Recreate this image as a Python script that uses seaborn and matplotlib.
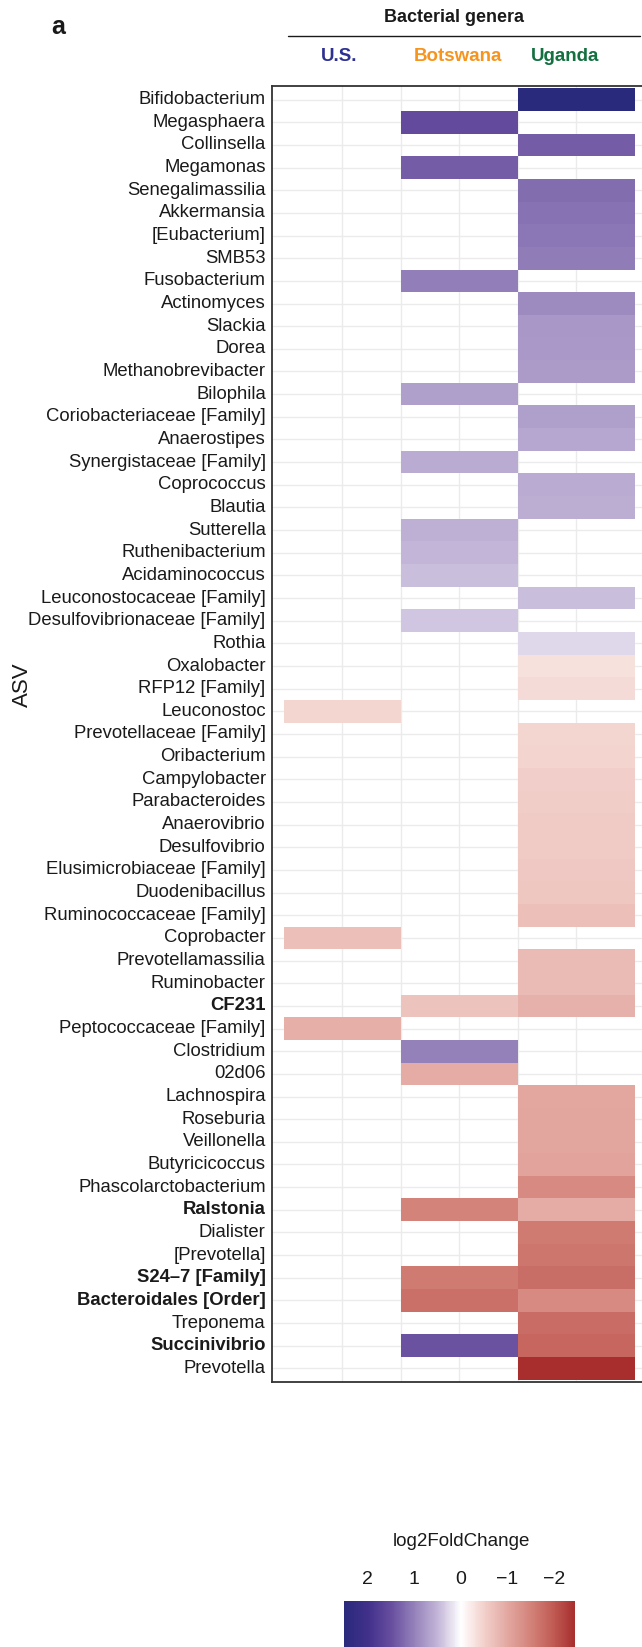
import numpy as np
import pandas as pd
import matplotlib
matplotlib.use('Agg')
import matplotlib.pyplot as plt
import seaborn as sns
from matplotlib.colors import LinearSegmentedColormap
from matplotlib.lines import Line2D

# rows of the heatmap, top to bottom
genera = [
    "Bifidobacterium", "Megasphaera", "Collinsella", "Megamonas", "Senegalimassilia",
    "Akkermansia", "[Eubacterium]", "SMB53", "Fusobacterium", "Actinomyces",
    "Slackia", "Dorea", "Methanobrevibacter", "Bilophila", "Coriobacteriaceae [Family]",
    "Anaerostipes", "Synergistaceae [Family]", "Coprococcus", "Blautia", "Sutterella",
    "Ruthenibacterium", "Acidaminococcus", "Leuconostocaceae [Family]",
    "Desulfovibrionaceae [Family]", "Rothia", "Oxalobacter", "RFP12 [Family]",
    "Leuconostoc", "Prevotellaceae [Family]", "Oribacterium", "Campylobacter",
    "Parabacteroides", "Anaerovibrio", "Desulfovibrio", "Elusimicrobiaceae [Family]",
    "Duodenibacillus", "Ruminococcaceae [Family]", "Coprobacter", "Prevotellamassilia",
    "Ruminobacter", "CF231", "Peptococcaceae [Family]", "Clostridium", "02d06",
    "Lachnospira", "Roseburia", "Veillonella", "Butyricicoccus", "Phascolarctobacterium",
    "Ralstonia", "Dialister", "[Prevotella]", "S24\u20137 [Family]", "Bacteroidales [Order]",
    "Treponema", "Succinivibrio", "Prevotella",
]
bold_genera = ["CF231", "Ralstonia", "S24\u20137 [Family]", "Bacteroidales [Order]", "Succinivibrio"]

countries = ["U.S.", "Botswana", "Uganda"]
country_colors = ["#2E3192", "#F7941D", "#137040"]

N = None
# log2FoldChange per country (None = not significant)
us_lfc = [N] * 27 + [-0.43] + [N] * 9 + [-0.72] + [N] * 3 + [-0.90] + [N] * 15
botswana_lfc = [
    N, 1.55, N, 1.35, N, N, N, N, 1.03, N,
    N, N, N, 0.72, N, N, 0.60, N, N, 0.55,
    0.49, 0.43, N, 0.38, N, N, N, N, N, N,
    N, N, N, N, N, N, N, N, N, N,
    -0.65, N, 1.00, -0.95, N, N, N, N, N, -1.50,
    N, N, -1.60, -1.72, N, 1.45, N,
]
uganda_lfc = [
    2.51, N, 1.35, N, 1.20, 1.15, 1.10, 1.05, N, 0.90,
    0.80, 0.77, 0.75, N, 0.72, 0.63, N, 0.60, 0.57, N,
    N, N, 0.43, N, 0.27, -0.33, -0.38, N, -0.43, -0.46,
    -0.52, -0.54, -0.56, -0.57, -0.59, -0.61, -0.72, N, -0.78, -0.78,
    -0.88, N, N, N, -1.00, -1.03, -1.02, -1.06, -1.40, -0.95,
    -1.60, -1.65, -1.75, -1.40, -1.76, -1.85, -2.45,
]

df = pd.DataFrame({"U.S.": us_lfc, "Botswana": botswana_lfc, "Uganda": uganda_lfc},
                  index=genera).astype(float)

# colour scale: positive = blue, negative = red
cmap = LinearSegmentedColormap.from_list("lfc", [
    (0.0, "#A52A2A"), (0.1, "#C05A53"), (0.2, "#D3837A"), (0.3, "#E3A8A1"),
    (0.4, "#F2D0CB"), (0.5, "#FFFFFF"), (0.6, "#C3B5D8"), (0.7, "#9582BB"),
    (0.8, "#674E9F"), (0.9, "#41308B"), (1.0, "#2A2A7C"),
])

sns.set_theme(style="white")
plt.rcParams['font.family'] = ['Liberation Sans', 'DejaVu Sans']

W, H = 642, 1647
fig = plt.figure(figsize=(W / 100, H / 100), dpi=100)

def fx(x):
    return x / W

def fy(y):
    return 1 - y / H

ax = fig.add_axes([fx(272), fy(1382), 374.4 / W, 1296 / H])
cax = fig.add_axes([fx(344), fy(1665), 231 / W, 64 / H])

sns.heatmap(df, mask=df.isna(), cmap=cmap, vmin=-2.5, vmax=2.5, ax=ax,
            cbar_ax=cax, cbar_kws={"orientation": "horizontal"},
            xticklabels=False, yticklabels=genera)

ax.set_xlim(-0.1, 3.1)
ax.set_ylim(len(genera) + 0.1, -0.1)
ax.set_xticks([0.5, 1.0, 1.5, 2.0, 2.5])
ax.set_xticklabels([])
ax.set_axisbelow(True)
ax.grid(True, color="#EBEBEB", lw=1)
ax.set_ylabel("")
ax.set_xlabel("")
ax.tick_params(axis="both", length=0)
ax.tick_params(axis="y", labelsize=13.3, labelcolor="#1A1A1A", pad=4.5)
for lab in ax.get_yticklabels():
    lab.set_rotation(0)
    if lab.get_text() in bold_genera:
        lab.set_fontweight("bold")
for side in ["left", "top", "bottom", "right"]:
    ax.spines[side].set_visible(True)
    ax.spines[side].set_color("#333333")
    ax.spines[side].set_linewidth(1.3)

# colour bar
cb = ax.collections[0].colorbar
cb.outline.set_visible(False)
cax.set_xlim(2.51, -2.45)
cax.set_xticks([2, 1, 0, -1, -2])
cax.set_xticklabels(["2", "1", "0", "\u22121", "\u22122"])
cax.xaxis.set_ticks_position("top")
cax.tick_params(axis="x", direction="in", length=6.5, width=1, color=(1, 1, 1, 0.8),
                labelsize=14, labelcolor="#1A1A1A", pad=9)
fig.text(fx(461.5), fy(1541), "log2FoldChange", fontsize=13.5, color="#1A1A1A",
         ha="center", va="center")

# header
fig.text(fx(58), fy(27), "a", fontsize=18, fontweight="bold", color="#1A1A1A",
         ha="center", va="center")
fig.text(fx(454), fy(17.5), "Bacterial genera", fontsize=13, fontweight="bold",
         color="#1A1A1A", ha="center", va="center")
fig.add_artist(Line2D([fx(287.5), fx(640)], [fy(35.7), fy(35.7)], color="#1A1A1A", lw=1))
for name, col, xc in zip(countries, country_colors, [339.5, 457.5, 565]):
    fig.text(fx(xc), fy(56.5), name, fontsize=13.5, fontweight="bold", color=col,
             ha="center", va="center")

fig.text(fx(22.5), fy(685), "ASV", fontsize=16, rotation=90, color="#1A1A1A",
         ha="center", va="center")

fig.savefig("out.png", dpi=100)
